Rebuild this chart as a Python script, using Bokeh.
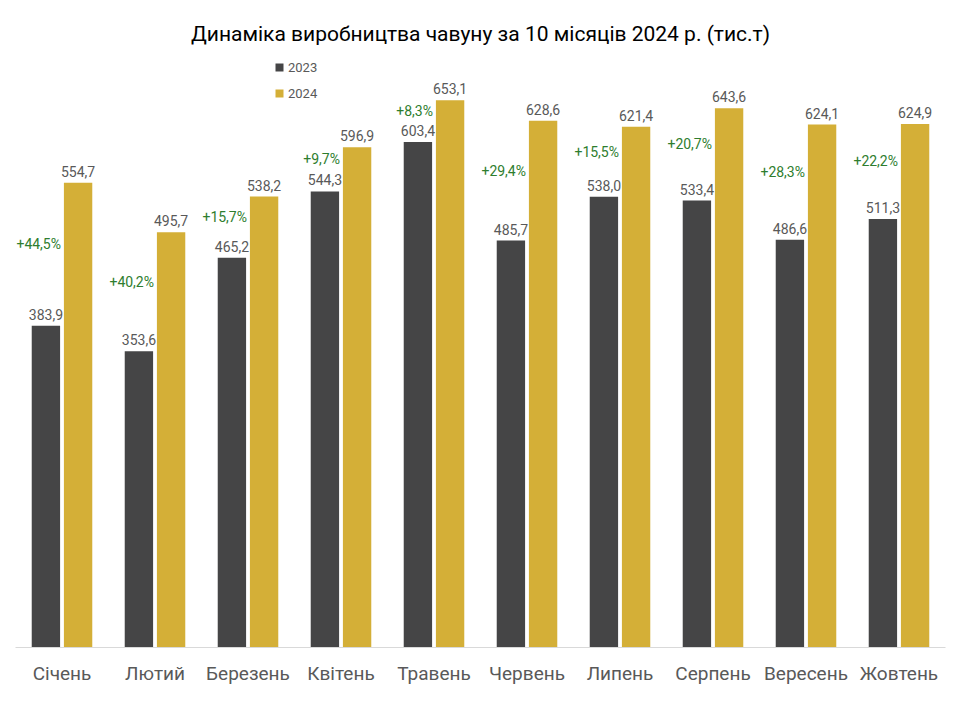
from bokeh.plotting import figure
from bokeh.models import (ColumnDataSource, FactorRange, Range1d, LabelSet,
                          Legend, LegendItem, Title)
from bokeh.core.properties import value
from bokeh.transform import dodge
from bokeh.embed import file_html
from bokeh.resources import INLINE

# Pig iron output by month, thousand tonnes
months = ["Січень", "Лютий", "Березень", "Квітень", "Травень",
          "Червень", "Липень", "Серпень", "Вересень", "Жовтень"]
values_2023 = [383.9, 353.6, 465.2, 544.3, 603.4, 485.7, 538.0, 533.4, 486.6, 511.3]
values_2024 = [554.7, 495.7, 538.2, 596.9, 653.1, 628.6, 621.4, 643.6, 624.1, 624.9]
growth_labels = ["+44,5%", "+40,2%", "+15,7%", "+9,7%", "+8,3%",
                 "+29,4%", "+15,5%", "+20,7%", "+28,3%", "+22,2%"]

FONT = "Roboto"
GREY_TEXT = "#595959"
C2023 = "#454546"
C2024 = "#D4AF37"


def fmt(v):
    return f"{v:.1f}".replace(".", ",")


src = ColumnDataSource(dict(
    month=months,
    v23=values_2023,
    v24=values_2024,
    t23=[fmt(v) for v in values_2023],
    t24=[fmt(v) for v in values_2024],
    pct=growth_labels,
    mid=[(a + b) / 2 for a, b in zip(values_2023, values_2024)],
))

p = figure(width=960, height=720,
           x_range=FactorRange(factors=months, range_padding=0),
           y_range=Range1d(0, 712.5),
           output_backend="svg", toolbar_location=None,
           min_border_left=15, min_border_right=15,
           min_border_top=50, min_border_bottom=73)

p.add_layout(Title(text="Динаміка виробництва чавуну за 10 місяців 2024 р. (тис.т)",
                   align="center", text_font=FONT, text_font_size="21px",
                   text_font_style="normal", text_color="#000000",
                   standoff=9), "above")

r23 = p.vbar(x=dodge("month", -0.173, range=p.x_range), top="v23", width=0.305,
             source=src, fill_color=C2023, line_color=None)
r24 = p.vbar(x=dodge("month", 0.173, range=p.x_range), top="v24", width=0.305,
             source=src, fill_color=C2024, line_color=None)

# value labels above each bar
label_kw = dict(text_font=value(FONT), text_font_size="14px", text_color=GREY_TEXT,
                text_align="center", text_baseline="bottom", y_offset=6, source=src)
p.add_layout(LabelSet(x=dodge("month", -0.173, range=p.x_range), y="v23", text="t23", **label_kw))
p.add_layout(LabelSet(x=dodge("month", 0.173, range=p.x_range), y="v24", text="t24", **label_kw))

# year-over-year growth, between the two bar tops
p.add_layout(LabelSet(x="month", y="mid", text="pct", source=src,
                      text_font=value(FONT), text_font_size="14px", text_color="#2E7D2E",
                      text_align="right", text_baseline="middle",
                      x_offset=-1, y_offset=10))

legend = Legend(items=[LegendItem(label="2023", renderers=[r23]),
                       LegendItem(label="2024", renderers=[r24])],
                location=(259, 544), orientation="vertical",
                glyph_width=10, glyph_height=10, label_height=20,
                label_standoff=4, spacing=6, padding=0, margin=0,
                label_text_font=FONT, label_text_font_size="13px",
                label_text_color=GREY_TEXT,
                border_line_color=None, background_fill_alpha=0)
p.add_layout(legend)

p.yaxis.visible = False
p.xgrid.grid_line_color = None
p.ygrid.grid_line_color = None
p.outline_line_color = None
p.xaxis.axis_line_color = "#D9D9D9"
p.xaxis.axis_line_width = 1
p.xaxis.major_tick_line_color = None
p.xaxis.minor_tick_line_color = None
p.xaxis.major_label_text_font = FONT
p.xaxis.major_label_text_font_size = "19px"
p.xaxis.major_label_text_color = GREY_TEXT
p.xaxis.major_label_standoff = 8

open("out.html", "w").write(file_html(p, INLINE))
